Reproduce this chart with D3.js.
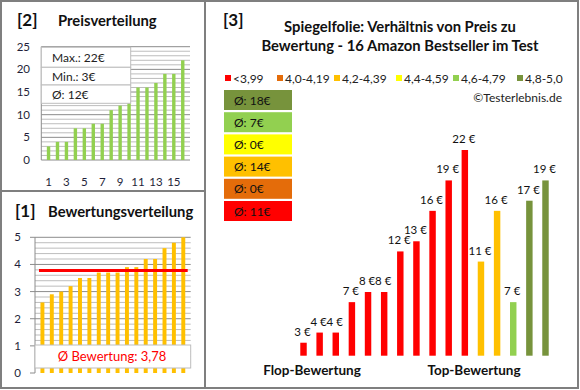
<!DOCTYPE html>
<html><head><meta charset="utf-8">
<script src="https://cdn.jsdelivr.net/npm/d3@7"></script>
<style>
html,body{margin:0;padding:0;background:#fff;}
svg{display:block;}
text{font-family:Lato,"Open Sans",sans-serif;}
</style></head>
<body><svg id="c" width="580" height="390"></svg>
<script>
// ---------- data ----------
const productPrices  = [3,4,4,7,8,8,12,13,16,19,22,11,16,7,17,19];
const productRatings = [2.6,2.9,3.0,3.2,3.5,3.5,3.7,3.7,3.7,3.9,3.9,4.2,4.2,4.6,4.8,5.0];
const priceSorted    = [3,4,4,7,7,8,8,11,12,13,16,16,17,19,19,22];
const ratingSorted   = [2.6,2.9,3.0,3.2,3.5,3.5,3.7,3.7,3.7,3.9,3.9,4.2,4.2,4.6,4.8,5.0];
const classLabels    = ["<3,99","4,0-4,19","4,2-4,39","4,4-4,59","4,6-4,79","4,8-5,0"];
const classLimits    = [4.0,4.2,4.4,4.6,4.8];
const classColors    = ["#FF0000","#E46C0A","#FFC000","#FFFF00","#92D050","#77933C"];
const classAverages  = [11,0,14,0,7,18];
const priceTicks     = [0,5,10,15,20,25];
const ratingTicks    = [0,1,2,3,4,5];
const indexTickLabels= [1,3,5,7,9,11,13,15];

const svg = d3.select("#c");
const frame = "#7f7f7f";
const idx = d3.range(1, 17);

// ---------- frames ----------
svg.append("rect").attr("x",1).attr("y",1).attr("width",577).attr("height",387)
  .attr("fill","#fff").attr("stroke",frame).attr("stroke-width",2);
svg.append("line").attr("x1",205).attr("x2",205).attr("y1",1).attr("y2",388).attr("stroke",frame).attr("stroke-width",2);
svg.append("line").attr("x1",1).attr("x2",205).attr("y1",191).attr("y2",191).attr("stroke",frame).attr("stroke-width",2);

function title(x, y, num, txt, tx, size){
  svg.append("text").attr("x",x).attr("y",y).attr("font-size",17).attr("font-weight","bold").attr("fill","#111").text(num);
  svg.append("text").attr("x",tx).attr("y",y).attr("font-size",size).attr("font-weight","bold").attr("fill","#111").text(txt);
}

// ---------- panel [2] Preisverteilung ----------
title(17, 26, "[2]", "Preisverteilung", 58, 14.8);
{
  const x = d3.scaleBand().domain(idx).range([41.3,190]).padding(0.62);
  const y = d3.scaleLinear().domain([0,25]).range([160,46.7]);
  const g = svg.append("g");
  g.selectAll("line.grid").data(d3.range(1,26)).join("line")
    .attr("x1",41.3).attr("x2",190).attr("y1",d=>y(d)).attr("y2",d=>y(d))
    .attr("stroke",d=>d%5===0?"#8c8c8c":"#bdbdbd").attr("stroke-width",1);
  g.append("line").attr("x1",41.3).attr("x2",41.3).attr("y1",y(25)).attr("y2",y(0)).attr("stroke","#8c8c8c");
  g.append("line").attr("x1",41.3).attr("x2",190).attr("y1",y(0)).attr("y2",y(0)).attr("stroke","#8c8c8c");
  g.selectAll("rect.bar").data(priceSorted).join("rect")
    .attr("x",(d,i)=>x(i+1)).attr("width",x.bandwidth())
    .attr("y",d=>y(d)).attr("height",d=>y(0)-y(d)).attr("fill","#92D050");
  g.selectAll("text.yt").data(priceTicks).join("text")
    .attr("x",30).attr("y",d=>y(d)+4).attr("text-anchor","end").attr("font-size",11.5).attr("fill","#1f1f3a").text(d=>d);
  g.selectAll("text.xt").data(indexTickLabels).join("text")
    .attr("x",d=>x(d)+x.bandwidth()/2).attr("y",186).attr("text-anchor","middle").attr("font-size",11.5).attr("fill","#1f1f3a").text(d=>d);
  // info box
  const rows = ["Max.: "+d3.max(priceSorted)+"€","Min.: "+d3.min(priceSorted)+"€","Ø: "+Math.round(d3.mean(priceSorted))+"€"];
  const bx=41.3, bw=89.4, tops=[47.3,67.3,85], bh=[20,17.7,18.3];
  rows.forEach((r,i)=>{
    g.append("rect").attr("x",bx).attr("y",tops[i]).attr("width",bw).attr("height",bh[i]).attr("fill","#fff").attr("stroke","#bdbdbd");
    g.append("text").attr("x",52).attr("y",tops[i]+bh[i]/2+4.5).attr("font-size",12).attr("fill","#222").text(r);
  });
}

// ---------- panel [1] Bewertungsverteilung ----------
title(15, 217, "[1]", "Bewertungsverteilung", 48, 14.8);
{
  const x = d3.scaleBand().domain(idx).range([35,190.7]).padding(0.58);
  const y = d3.scaleLinear().domain([0,5]).range([373,237.3]);
  const g = svg.append("g");
  g.selectAll("line.grid").data(d3.range(1,26)).join("line")
    .attr("x1",35).attr("x2",190.7).attr("y1",d=>y(d/5)).attr("y2",d=>y(d/5))
    .attr("stroke",d=>d%5===0?"#8c8c8c":"#bdbdbd").attr("stroke-width",1);
  g.append("line").attr("x1",35).attr("x2",35).attr("y1",y(5)).attr("y2",y(0)).attr("stroke","#8c8c8c");
  g.selectAll("line.tk").data(ratingTicks).join("line")
    .attr("x1",30).attr("x2",35).attr("y1",d=>y(d)).attr("y2",d=>y(d)).attr("stroke","#8c8c8c");
  g.selectAll("rect.bar").data(ratingSorted).join("rect")
    .attr("x",(d,i)=>x(i+1)).attr("width",x.bandwidth())
    .attr("y",d=>y(d)).attr("height",d=>y(0)-y(d)).attr("fill","#FFC000");
  const avg = d3.mean(ratingSorted);
  g.append("line").attr("x1",39).attr("x2",187.7).attr("y1",y(avg)).attr("y2",y(avg)).attr("stroke","#FF0000").attr("stroke-width",3);
  g.selectAll("text.yt").data(ratingTicks).join("text")
    .attr("x",21).attr("y",d=>y(d)+4).attr("text-anchor","end").attr("font-size",11.5).attr("fill","#1f1f3a").text(d=>d);
  g.append("rect").attr("x",35).attr("y",345).attr("width",155.7).attr("height",23).attr("fill","#fff").attr("stroke","#bdbdbd");
  const avgTxt = (Math.round(avg*100 + 1e-6)/100).toFixed(2).replace(".",",");
  g.append("text").attr("x",112).attr("y",361).attr("text-anchor","middle").attr("font-size",13).attr("fill","#FF0000")
    .text("Ø Bewertung: "+avgTxt);
}

// ---------- panel [3] ----------
svg.append("text").attr("x",223).attr("y",26).attr("font-size",17).attr("font-weight","bold").attr("fill","#111").text("[3]");
svg.append("text").attr("x",400).attr("y",32).attr("text-anchor","middle").attr("font-size",14.8).attr("font-weight","bold").attr("fill","#111")
  .text("Spiegelfolie: Verhältnis von Preis zu");
svg.append("text").attr("x",400).attr("y",51).attr("text-anchor","middle").attr("font-size",14.8).attr("font-weight","bold").attr("fill","#111")
  .text("Bewertung - 16 Amazon Bestseller im Test");
{
  // legend
  const lx = [225,277,334,396,453,517];
  classLabels.forEach((l,i)=>{
    svg.append("rect").attr("x",lx[i]).attr("y",75).attr("width",6).attr("height",6).attr("fill",classColors[i]);
    svg.append("text").attr("x",lx[i]+8).attr("y",82.5).attr("font-size",12).attr("fill","#222").text(l);
  });
  svg.append("text").attr("x",562).attr("y",102).attr("text-anchor","end").attr("font-size",12).attr("fill","#222").text("©Testerlebnis.de");
  // average boxes, best class first
  d3.range(5,-1,-1).forEach((c,j)=>{
    const top = 90 + j*22.2;
    svg.append("rect").attr("x",224).attr("y",top).attr("width",68).attr("height",20).attr("fill",classColors[c]);
    svg.append("text").attr("x",234).attr("y",top+14.5).attr("font-size",12).attr("fill","#111").text("Ø: "+classAverages[c]+"€");
  });
  const cls = r => { let k=0; classLimits.forEach(l=>{ if(r>=l-1e-9) k++; }); return k; };
  const x = d3.scaleBand().domain(idx).range([290.6,558.4]).padding(0.6);
  const y = d3.scaleLinear().domain([1.72,22]).range([355.7,150]);
  const g = svg.append("g");
  g.selectAll("rect.bar").data(productPrices).join("rect")
    .attr("x",(d,i)=>x(i+1)).attr("width",x.bandwidth())
    .attr("y",d=>y(d)).attr("height",d=>y(1.72)-y(d)).attr("fill",(d,i)=>classColors[cls(productRatings[i])]);
  g.selectAll("text.lab").data(productPrices).join("text")
    .attr("x",(d,i)=>x(i+1)+x.bandwidth()/2-1).attr("y",d=>y(d)-7).attr("text-anchor","middle")
    .attr("font-size",11.5).attr("fill","#111").text(d=>d+" €");
  svg.append("text").attr("x",312).attr("y",375).attr("text-anchor","middle").attr("font-size",13.5).attr("font-weight","bold").attr("fill","#111").text("Flop-Bewertung");
  svg.append("text").attr("x",474).attr("y",375).attr("text-anchor","middle").attr("font-size",13.5).attr("font-weight","bold").attr("fill","#111").text("Top-Bewertung");
}
</script></body></html>
